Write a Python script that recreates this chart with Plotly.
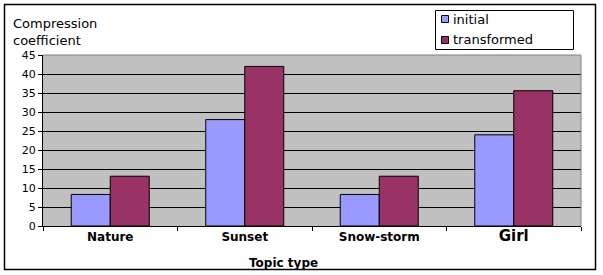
import plotly.graph_objects as go

categories = ["Nature", "Sunset", "Snow-storm", "Girl"]
initial = [8.3, 28.0, 8.3, 24.0]
transformed = [13.1, 42.0, 13.1, 35.6]
y_ticks = [0, 5, 10, 15, 20, 25, 30, 35, 40, 45]
cat_labels = ["<b>Nature</b>", "<b>Sunset</b>", "<b>Snow-storm</b>",
              "<span style='font-size:15px'><b>Girl</b></span>"]
series_names = ["initial", "transformed"]
series_colors = ["#9999FF", "#993366"]

W, H = 603, 275
L, R, T, B = 43, 22, 55, 49
pw, ph = W - L - R, H - T - B

def px(x):
    return (x - L) / pw

def py(y):
    return (H - B - y) / ph

font = "DejaVu Sans, Verdana, sans-serif"

fig = go.Figure()
for name, vals, col in zip(series_names, [initial, transformed], series_colors):
    fig.add_trace(go.Bar(x=categories, y=vals, name=name, showlegend=False,
                         marker=dict(color=col, line=dict(color="black", width=1))))

shapes = [
    dict(type="rect", xref="paper", yref="paper", x0=px(4.5), x1=px(595.5),
         y0=py(269.5), y1=py(4.5), line=dict(color="black", width=1.5), layer="below"),
    dict(type="line", xref="paper", yref="paper", x0=0, x1=1, y0=1, y1=1,
         line=dict(color="#808080", width=1)),
    dict(type="line", xref="paper", yref="paper", x0=1, x1=1, y0=0, y1=1,
         line=dict(color="#808080", width=1)),
    # legend box
    dict(type="rect", xref="paper", yref="paper", x0=px(435.5), x1=px(573.5),
         y0=py(49.5), y1=py(10.5), line=dict(color="black", width=1), fillcolor="white"),
]
annotations = [
    dict(text="Compression<br>coefficient", xref="paper", yref="paper",
         x=px(11), y=py(14), xanchor="left", yanchor="top", align="left",
         showarrow=False, font=dict(size=13, family=font)),
    dict(text="<b>Topic type</b>", xref="paper", yref="paper",
         x=px(283), y=py(263), xanchor="center", yanchor="middle",
         showarrow=False, font=dict(size=12, family=font)),
]
for i, (name, col) in enumerate(zip(series_names, series_colors)):
    cy = 19 + i * 21
    shapes.append(dict(type="rect", xref="paper", yref="paper", x0=px(441.5), x1=px(448.5),
                       y0=py(cy + 3.5), y1=py(cy - 3.5), line=dict(color="black", width=1),
                       fillcolor=col))
    annotations.append(dict(text=name, xref="paper", yref="paper", x=px(451), y=py(cy),
                            xanchor="left", yanchor="middle", showarrow=False,
                            font=dict(size=13, family=font)))

fig.update_layout(
    width=W, height=H,
    margin=dict(l=L, r=R, t=T, b=B, autoexpand=False),
    paper_bgcolor="white",
    plot_bgcolor="#C0C0C0",
    barmode="group",
    bargap=0.42,
    bargroupgap=0,
    font=dict(family=font, size=11, color="black"),
    showlegend=False,
    xaxis=dict(tickmode="array", tickvals=categories, ticktext=cat_labels,
               tickson="boundaries", ticks="outside", ticklen=4, tickcolor="black",
               showline=True, linecolor="black", linewidth=1, automargin=False,
               tickfont=dict(size=12, family=font), showgrid=False),
    yaxis=dict(range=[0, 45], tickvals=y_ticks, ticks="outside", ticklen=4,
               tickcolor="black", showline=True, linecolor="black", linewidth=1,
               showgrid=True, gridcolor="black", gridwidth=1, automargin=False,
               tickfont=dict(size=11, family=font), zeroline=False),
    annotations=annotations,
    shapes=shapes,
)

fig.write_html("out.html", config={"displayModeBar": False},
               post_script="document.body.style.margin='0';document.body.style.overflow='hidden';")
